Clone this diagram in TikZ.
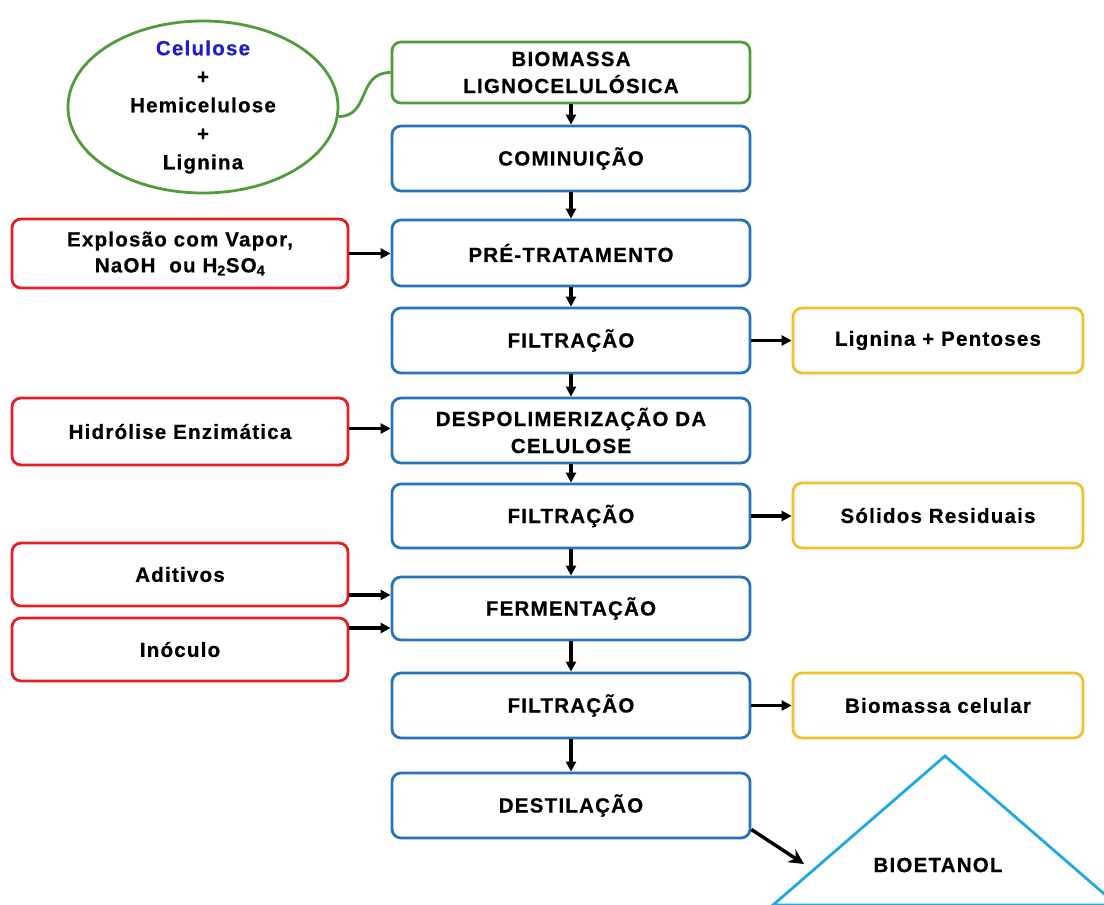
\documentclass[tikz,border=0pt]{standalone}
\usepackage{fontspec}
\setmainfont{Liberation Sans}[LetterSpace=6,BoldFeatures={FakeBold=0.6}]
\usetikzlibrary{arrows.meta,shapes.geometric}
\definecolor{gr}{RGB}{80,155,60}
\definecolor{bl}{RGB}{40,115,190}
\definecolor{rd}{RGB}{228,30,36}
\definecolor{ye}{RGB}{240,192,45}
\definecolor{cy}{RGB}{30,170,225}
\definecolor{celu}{RGB}{30,30,200}
\begin{document}
\begin{tikzpicture}[x=1pt,y=-1pt,
  lbl/.style={font=\bfseries\fontsize{20.5}{26}\selectfont, text=black, align=center},
  box/.style={lbl, draw, line width=2.8pt, rounded corners=9pt, fill=white, inner sep=2pt},
  cbox/.style={box, draw=bl, minimum width=358pt},
  rbox/.style={box, draw=rd, minimum width=336pt},
  ybox/.style={box, draw=ye, minimum width=290pt},
  arr/.style={line width=3.2pt, -{Triangle[length=10pt,width=10pt]}},
  bigarr/.style={line width=3.4pt, -{Stealth[length=15pt,width=15pt]}}
]
\useasboundingbox (0,0) rectangle (1104,905);
\fill[white] (0,0) rectangle (1104,905);

% ellipse
\node[ellipse, draw=gr, line width=2.8pt, fill=white, minimum width=270pt, minimum height=172pt, inner sep=0pt] (ell) at (203,107) {};
\node[lbl, font=\bfseries\fontsize{20.5}{28.5}\selectfont] (elltext) at (203,107) {\textcolor{celu}{Celulose}\\+\\Hemicelulose\\+\\Lignina};

% centre column
\node[box, draw=gr, minimum width=358pt, minimum height=61pt, font=\bfseries\fontsize{20.5}{27}\selectfont] (bio) at (571,72.5) {BIOMASSA\\LIGNOCELULÓSICA};
\node[cbox, minimum height=65pt] (comin) at (571,158.5) {COMINUIÇÃO};
\node[cbox, minimum height=66pt] (pre) at (571,253) {PRÉ-TRATAMENTO};
\node[cbox, minimum height=65pt] (filt1) at (571,340.5) {FILTRAÇÃO};
\node[cbox, minimum height=65pt, font=\bfseries\fontsize{20.5}{27}\selectfont] (despol) at (571,430.5) {DESPOLIMERIZAÇÃO DA\\CELULOSE};
\node[cbox, minimum height=64pt] (filt2) at (571,516) {FILTRAÇÃO};
\node[cbox, minimum height=63pt] (ferm) at (571,608.5) {FERMENTAÇÃO};
\node[cbox, minimum height=65pt] (filt3) at (571,705.5) {FILTRAÇÃO};
\node[cbox, minimum height=65pt] (destil) at (571,805.5) {DESTILAÇÃO};

% left column
\node[rbox, minimum height=69pt] (expl) at (180,253.5) {Explosão com Vapor,\\NaOH\ \ ou H\textsubscript{2}SO\textsubscript{4}};
\node[rbox, minimum height=67pt] (hidr) at (180,431.5) {Hidrólise Enzimática};
\node[rbox, minimum height=63pt] (adit) at (180,574.5) {Aditivos};
\node[rbox, minimum height=63pt] (inoc) at (180,649.5) {Inóculo};

% right column
\node[ybox, minimum height=65pt] (lig) at (938,340.5) {Lignina + Pentoses};
\node[ybox, minimum height=65pt] (sol) at (938,515.5) {Sólidos Residuais};
\node[ybox, minimum height=65pt] (bcel) at (938,705.5) {Biomassa celular};

% triangle
\begin{scope}
\clip (0,0) rectangle (1104,905);
\draw[cy, line width=2.8pt, line join=miter] (773,905) -- (945,756) -- (1117,905) -- cycle;
\end{scope}
\node[lbl] (etanol) at (938,865) {BIOETANOL};
\coordinate (etin) at (804,864);

% connector ellipse - biomassa
\draw[gr, line width=2.8pt] (ell.-4) .. controls +(32,0) and +(-34,0) .. (bio.west);

% vertical arrows
\draw[arr] (bio.south) -- (comin.north);
\draw[arr] (comin.south) -- (pre.north);
\draw[arr] (pre.south) -- (filt1.north);
\draw[arr] (filt1.south) -- (despol.north);
\draw[arr] (despol.south) -- (filt2.north);
\draw[arr] (filt2.south) -- (ferm.north);
\draw[arr] (ferm.south) -- (filt3.north);
\draw[arr] (filt3.south) -- (destil.north);

% horizontal arrows
\draw[arr] (expl.east) -- (expl.east -| pre.west);
\coordinate (h1) at ([yshift=3pt]hidr.east);
\draw[arr] (h1) -- (h1 -| despol.west);
\coordinate (a1) at ([yshift=-20.5pt]adit.east);
\draw[arr] (a1) -- (a1 -| ferm.west);
\coordinate (i1) at ([yshift=21.5pt]inoc.east);
\draw[arr] (i1) -- (i1 -| ferm.west);
\draw[arr] (filt1.east) -- (filt1.east -| lig.west);
\draw[arr] (filt2.east) -- (filt2.east -| sol.west);
\draw[arr] (filt3.east) -- (filt3.east -| bcel.west);

% to bioetanol
\draw[bigarr] ([yshift=-24pt]destil.east) -- (etin);
\end{tikzpicture}
\end{document}
